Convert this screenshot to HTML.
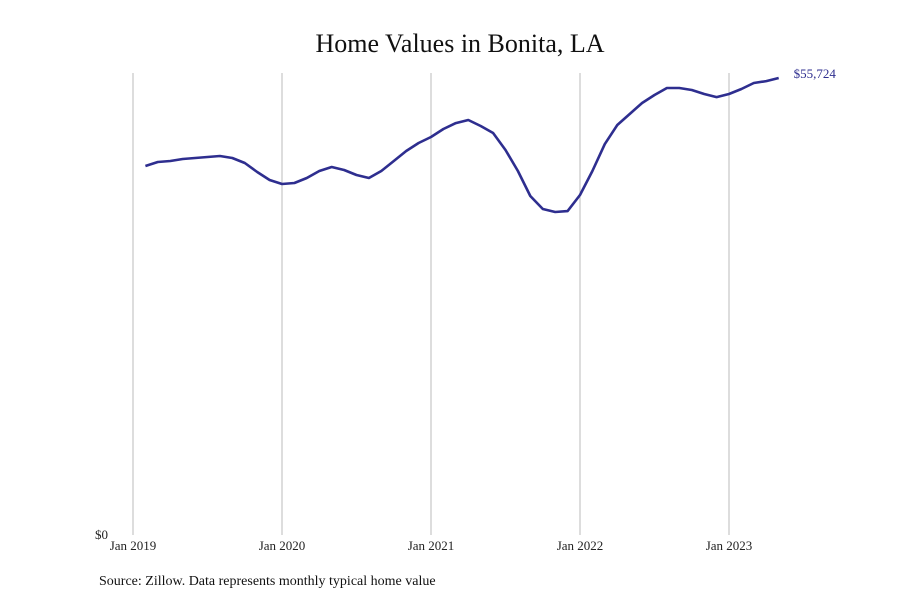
<!DOCTYPE html>
<html>
<head>
<meta charset="utf-8">
<style>
  html, body { margin: 0; padding: 0; background: #fff; }
  svg { display: block; font-family: "Liberation Serif", serif; }
</style>
</head>
<body>
<svg id="chart" width="900" height="600" viewBox="0 0 900 600">
  <text x="460" y="52" text-anchor="middle" font-size="26" fill="#111">Home Values in Bonita, LA</text>
  <g id="grid"></g>
  <g id="xticks"></g>
  <text x="108" y="539" text-anchor="end" font-size="13" fill="#222">$0</text>
  <path id="line" fill="none" stroke="#2e2e8f" stroke-width="2.6" stroke-linejoin="round"></path>
  <text id="endlabel" font-size="13" fill="#2e2e8f"></text>
  <text x="99" y="585" font-size="14" fill="#111">Source: Zillow. Data represents monthly typical home value</text>
</svg>
<script>
// month index since Jan 2019 (Feb 2019 = 1)
const startMonth = 1;
const values = [44990,45480,45600,45845,45970,46090,46210,45970,45360,44260,43290,42800,
  42920,43530,44380,44870,44500,43900,43530,44380,45600,46820,47800,48530,
  49500,50230,50600,49870,49020,46940,44380,41330,39750,39380,39500,41460,
  44380,47670,49990,51330,52670,53650,54500,54500,54260,53770,53400,53770,
  54380,55110,55350,55724];
const tickLabels = ["Jan 2019","Jan 2020","Jan 2021","Jan 2022","Jan 2023"];
const tickMonths = [0,12,24,36,48];

const x = m => 133 + m * (596 / 48);
const y = v => 535 - v * (457 / 55724);
const svgNS = "http://www.w3.org/2000/svg";
const grid = document.getElementById('grid');
const xt = document.getElementById('xticks');
tickMonths.forEach((m, i) => {
  const l = document.createElementNS(svgNS, 'line');
  
  
  l.setAttribute('x1', x(m)); l.setAttribute('x2', x(m));
  l.setAttribute('y1', 73); l.setAttribute('y2', 535);
  l.setAttribute('stroke', '#bbb'); l.setAttribute('stroke-width', '1');
  grid.appendChild(l);
  const t = document.createElementNS(svgNS, 'text');
  
  
  t.setAttribute('x', x(m)); t.setAttribute('y', 550);
  t.setAttribute('text-anchor', 'middle'); t.setAttribute('font-size', '13');
  t.setAttribute('fill', '#222');
  t.textContent = tickLabels[i];
  xt.appendChild(t);
});
let d = '';
values.forEach((v, i) => {
  d += (i ? 'L' : 'M') + x(startMonth + i).toFixed(1) + ',' + y(v).toFixed(1);
});
document.getElementById('line').setAttribute('d', d);
const last = values[values.length - 1];
const el = document.getElementById('endlabel');
el.setAttribute('x', x(startMonth + values.length - 1) + 15);
el.setAttribute('y', y(last) + 0);
el.textContent = '$' + last.toLocaleString('en-US');
</script>
</body>
</html>
